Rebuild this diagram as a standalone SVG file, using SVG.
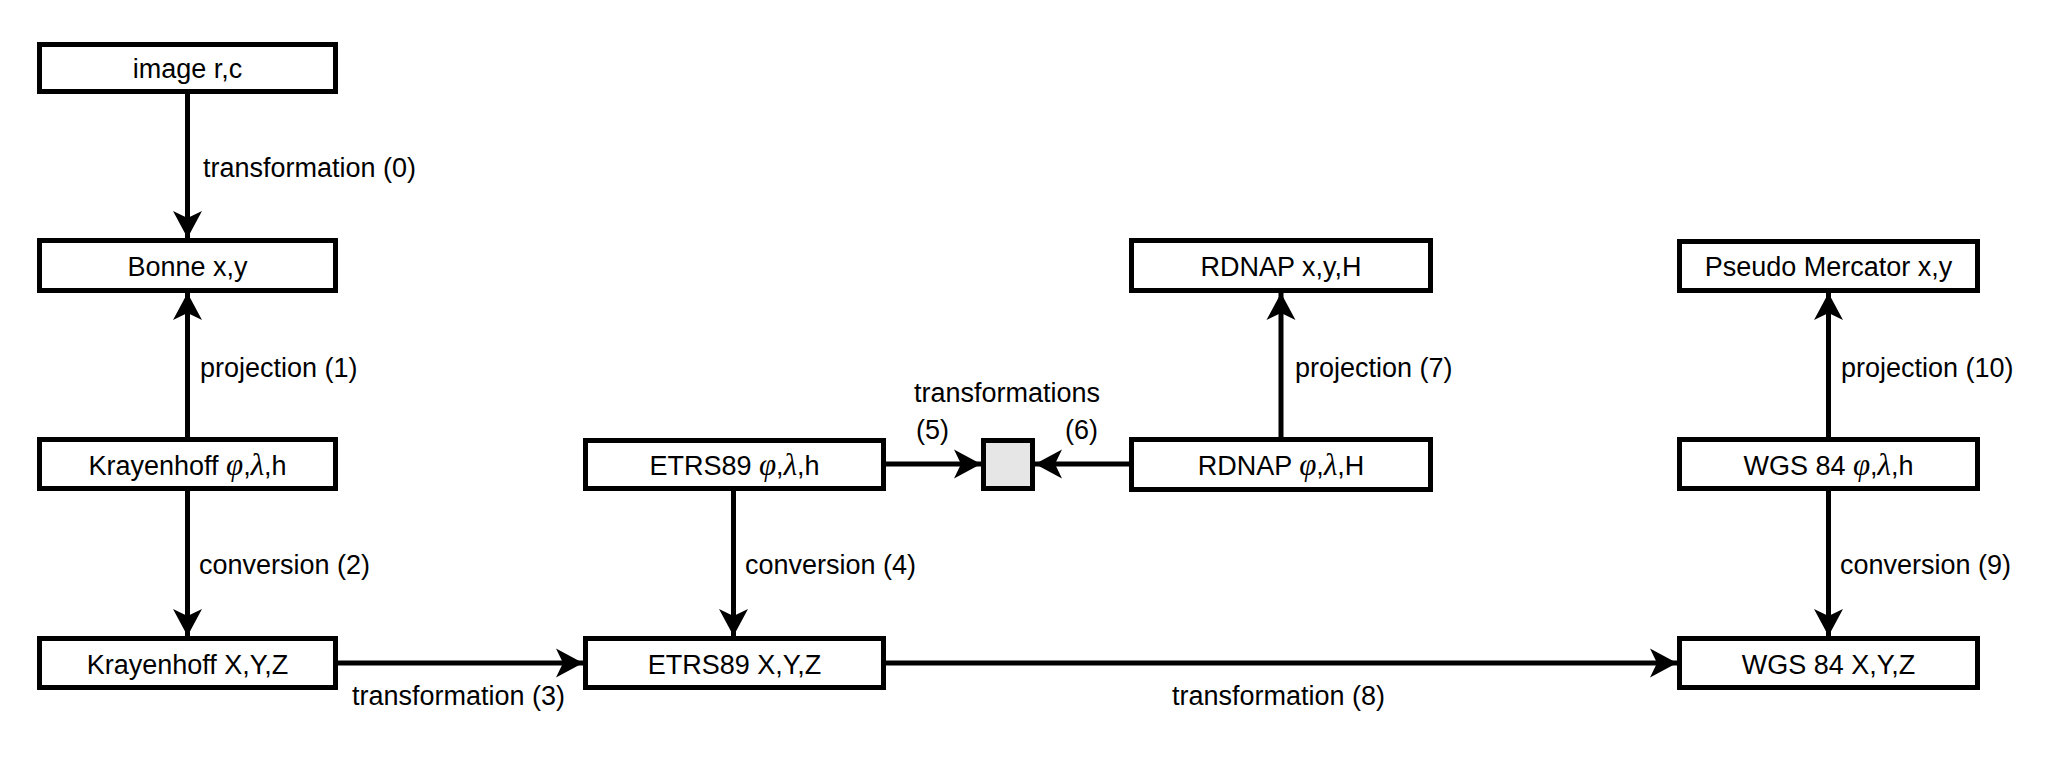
<svg xmlns="http://www.w3.org/2000/svg" width="2068" height="769" viewBox="0 0 2068 769">
<style>
.box{fill:#fff;stroke:#000;stroke-width:5}
.hub{fill:#e6e6e6;stroke:#000;stroke-width:5}
.t{font-family:"Liberation Sans",Arial,sans-serif;font-size:27px;fill:#000}
.bt{text-anchor:middle}
.g{font-family:"Liberation Serif","Times New Roman",serif;font-style:italic;font-size:31px}
.c{stroke:#000;stroke-width:5;fill:none;marker-end:url(#ah)}
</style>
<defs>
<marker id="ah" markerUnits="userSpaceOnUse" viewBox="-28 -15 29 30" refX="0" refY="0" markerWidth="29" markerHeight="30" orient="auto">
<path d="M0,0 L-27,-14.5 L-20,0 L-27,14.5 Z" fill="#000"/>
</marker>
</defs>
<rect width="2068" height="769" fill="#fff"/>
<g id="connectors">
<path class="c" d="M187.5,94 V238"/>
<path class="c" d="M187.5,437 V293"/>
<path class="c" d="M187.5,491 V636"/>
<path class="c" d="M338,663 H583"/>
<path class="c" d="M733.5,491 V636"/>
<path class="c" d="M886,464 H981"/>
<path class="c" d="M1129,464 H1035"/>
<path class="c" d="M1281,437 V293"/>
<path class="c" d="M886,663 H1677"/>
<path class="c" d="M1828.5,491 V636"/>
<path class="c" d="M1828.5,437 V293"/>
<text class="t" x="203" y="177">transformation (0)</text>
<text class="t" x="200" y="377">projection (1)</text>
<text class="t" x="199" y="574">conversion (2)</text>
<text class="t" x="352" y="705">transformation (3)</text>
<text class="t" x="745" y="574">conversion (4)</text>
<text class="t" x="914" y="402">transformations</text>
<text class="t" x="916" y="439">(5)</text>
<text class="t" x="1065" y="439">(6)</text>
<text class="t" x="1295" y="377">projection (7)</text>
<text class="t" x="1172" y="705">transformation (8)</text>
<text class="t" x="1840" y="574">conversion (9)</text>
<text class="t" x="1841" y="377">projection (10)</text>
</g>
<g id="image-rc"><rect class="box" x="39.5" y="44.5" width="296" height="47"/><text class="t bt" x="187.5" y="78">image r,c</text></g>
<g id="bonne"><rect class="box" x="39.5" y="240.5" width="296" height="50"/><text class="t bt" x="187.5" y="276">Bonne x,y</text></g>
<g id="krayenhoff-geo"><rect class="box" x="39.5" y="439.5" width="296" height="49"/><text class="t bt" x="187.5" y="475">Krayenhoff <tspan class="g">φ</tspan>,<tspan class="g">λ</tspan>,h</text></g>
<g id="krayenhoff-xyz"><rect class="box" x="39.5" y="638.5" width="296" height="49"/><text class="t bt" x="187.5" y="674">Krayenhoff X,Y,Z</text></g>
<g id="etrs89-geo"><rect class="box" x="585.5" y="440.5" width="298" height="48"/><text class="t bt" x="734.5" y="475">ETRS89 <tspan class="g">φ</tspan>,<tspan class="g">λ</tspan>,h</text></g>
<g id="etrs89-xyz"><rect class="box" x="585.5" y="638.5" width="298" height="49"/><text class="t bt" x="734.5" y="674">ETRS89 X,Y,Z</text></g>
<g id="hub"><rect class="hub" x="983.5" y="440.5" width="49" height="48"/></g>
<g id="rdnap-xyh"><rect class="box" x="1131.5" y="240.5" width="299" height="50"/><text class="t bt" x="1281" y="276">RDNAP x,y,H</text></g>
<g id="rdnap-geo"><rect class="box" x="1131.5" y="439.5" width="299" height="50"/><text class="t bt" x="1281" y="475">RDNAP <tspan class="g">φ</tspan>,<tspan class="g">λ</tspan>,H</text></g>
<g id="pseudo-mercator"><rect class="box" x="1679.5" y="241.5" width="298" height="49"/><text class="t bt" x="1828.5" y="276">Pseudo Mercator x,y</text></g>
<g id="wgs84-geo"><rect class="box" x="1679.5" y="439.5" width="298" height="49"/><text class="t bt" x="1828.5" y="475">WGS 84 <tspan class="g">φ</tspan>,<tspan class="g">λ</tspan>,h</text></g>
<g id="wgs84-xyz"><rect class="box" x="1679.5" y="638.5" width="298" height="49"/><text class="t bt" x="1828.5" y="674">WGS 84 X,Y,Z</text></g>
</svg>
